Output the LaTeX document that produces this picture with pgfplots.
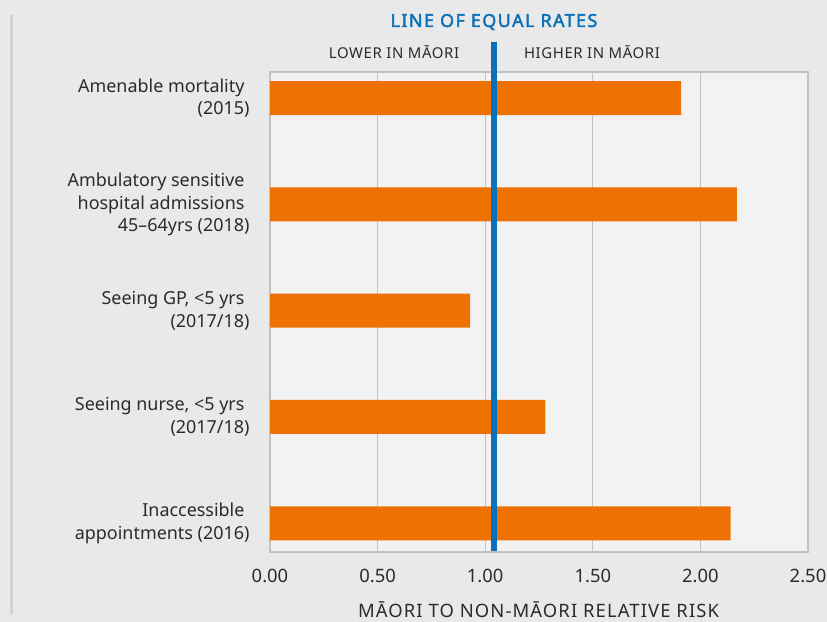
\documentclass[border=0pt]{standalone}
\usepackage{fontspec}
\setmainfont{Noto Sans}
\newfontfamily\capsfont[LetterSpace=4]{Noto Sans}
\newfontfamily\labelfont[LetterSpace=6]{Noto Sans}
\newfontfamily\bluefont[LetterSpace=8, FakeBold=2.2]{Noto Sans}
\usepackage{pgfplots}
\pgfplotsset{compat=1.18}
\definecolor{bg}{HTML}{E9E9E9}
\definecolor{plotbg}{HTML}{F2F2F2}
\definecolor{gridc}{HTML}{C2C2C2}
\definecolor{leftline}{HTML}{D2D2D2}
\definecolor{barc}{HTML}{EE7203}
\definecolor{bluec}{HTML}{0A70BA}
\definecolor{txt}{HTML}{2B2B2B}
\begin{document}
\begin{tikzpicture}[x=1bp,y=1bp]
\fill[bg] (0,0) rectangle (827,622);
\useasboundingbox (0,0) rectangle (827,622);
\draw[line width=2.7bp, leftline] (11.3,8) -- (11.3,607);
\begin{axis}[
  at={(270bp,70bp)}, anchor=south west,
  scale only axis, width=538bp, height=480bp,
  xmin=0, xmax=2.5, ymin=-0.245, ymax=4.27, y dir=reverse,
  xbar, bar width=34bp, bar shift=0pt,
  axis background/.style={fill=plotbg},
  axis line style={gridc, line width=1.3bp},
  xmajorgrids, grid style={gridc, line width=1.3bp},
  major tick length=0pt,
  xtick={0,0.5,1,1.5,2,2.5},
  xticklabels={0.00,0.50,1.00,1.50,2.00,2.50},
  xticklabel style={font=\fontsize{18.5}{20}\selectfont, text=txt, anchor=base, yshift=-30bp},
  ytick={0,1,2,3,4},
  yticklabels={
    {Amenable mortality\kern5bp\\(2015)},
    {Ambulatory sensitive\kern5bp\\hospital admissions\kern5bp\\45–64yrs (2018)},
    {Seeing GP, <5 yrs\kern5bp\\(2017/18)},
    {Seeing nurse, <5 yrs\kern5bp\\(2017/18)},
    {Inaccessible\kern5bp\\appointments (2016)}},
  yticklabel style={font=\fontsize{18}{22.5}\selectfont, text=txt, align=right, xshift=-17bp},
  clip=false,
]
\addplot[fill=barc, draw=none] coordinates {(1.91,0) (2.17,1) (0.93,2) (1.28,3) (2.14,4)};
\addplot[xbar=false, sharp plot, draw=bluec, line width=6bp, forget plot] coordinates {(1.04,-0.53) (1.04,4.265)};
\end{axis}
\node[text=bluec, font=\fontsize{18}{20}\bluefont] at (494,600) {LINE OF EQUAL RATES};
\node[text=txt, font=\fontsize{15}{18}\capsfont] at (394,570) {LOWER IN MĀORI};
\node[text=txt, font=\fontsize{15}{18}\capsfont] at (592,570) {HIGHER IN MĀORI};
\node[text=txt, font=\fontsize{18.5}{20}\labelfont, anchor=base] at (538.5,4) {MĀORI TO NON-MĀORI RELATIVE RISK};
\end{tikzpicture}
\end{document}
